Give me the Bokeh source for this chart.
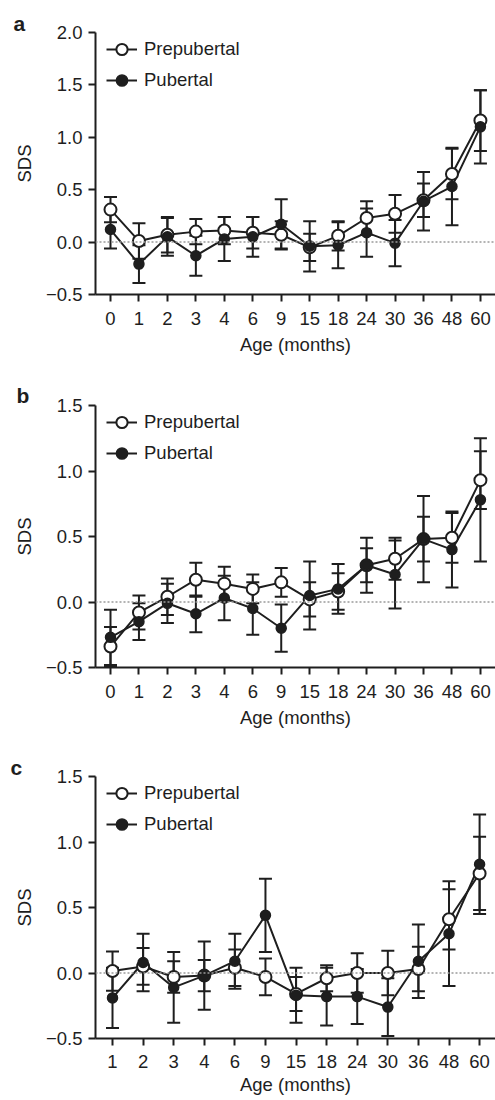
from bokeh.plotting import figure
from bokeh.models import (ColumnDataSource, Whisker, TeeHead, Span, Legend,
                          LegendItem, FixedTicker)
from bokeh.layouts import column
from bokeh.embed import file_html
from bokeh.resources import INLINE

# ---------------- data ----------------
ages_ab = ["0", "1", "2", "3", "4", "6", "9", "15", "18", "24", "30", "36", "48", "60"]
ages_c = ["1", "2", "3", "4", "6", "9", "15", "18", "24", "30", "36", "48", "60"]

a_pre = [0.31, 0.01, 0.07, 0.10, 0.11, 0.09, 0.07, -0.05, 0.06, 0.23, 0.27, 0.40, 0.65, 1.16]
a_pre_err = [0.12, 0.17, 0.17, 0.12, 0.13, 0.15, 0.13, 0.13, 0.14, 0.16, 0.18, 0.16, 0.24, 0.29]
a_pub = [0.12, -0.21, 0.05, -0.13, 0.03, 0.05, 0.17, -0.04, -0.03, 0.09, -0.01, 0.39, 0.53, 1.10]
a_pub_err = [0.18, 0.18, 0.18, 0.19, 0.21, 0.19, 0.24, 0.24, 0.22, 0.23, 0.22, 0.28, 0.37, 0.35]

b_pre = [-0.34, -0.08, 0.04, 0.17, 0.14, 0.10, 0.15, 0.02, 0.08, 0.28, 0.33, 0.48, 0.49, 0.93]
b_pre_err = [0.15, 0.13, 0.14, 0.13, 0.13, 0.11, 0.11, 0.13, 0.14, 0.13, 0.16, 0.17, 0.19, 0.22]
b_pub = [-0.27, -0.15, -0.01, -0.09, 0.03, -0.05, -0.20, 0.05, 0.10, 0.28, 0.21, 0.48, 0.40, 0.78]
b_pub_err = [0.21, 0.14, 0.15, 0.14, 0.17, 0.20, 0.18, 0.26, 0.19, 0.21, 0.26, 0.33, 0.29, 0.47]

c_pre = [0.015, 0.05, -0.03, -0.02, 0.04, -0.03, -0.16, -0.04, 0.00, 0.00, 0.03, 0.41, 0.76]
c_pre_err = [0.15, 0.14, 0.12, 0.12, 0.14, 0.14, 0.13, 0.10, 0.15, 0.17, 0.17, 0.23, 0.28]
c_pub = [-0.19, 0.08, -0.11, -0.02, 0.09, 0.44, -0.17, -0.18, -0.18, -0.26, 0.09, 0.30, 0.83]
c_pub_err = [0.23, 0.22, 0.27, 0.26, 0.21, 0.28, 0.21, 0.22, 0.21, 0.22, 0.28, 0.40, 0.38]

yticks_a = [-0.5, 0.0, 0.5, 1.0, 1.5, 2.0]
yticks_bc = [-0.5, 0.0, 0.5, 1.0, 1.5]
ytick_labels = {-0.5: "\u22120.5", 0.0: "0.0", 0.5: "0.5", 1.0: "1.0", 1.5: "1.5", 2.0: "2.0"}

FONT = "Liberation Sans"
INK = "#1e1e1e"
FS = "18.5px"


def panel(letter, ages, pre, pre_err, pub, pub_err, yticks, ymax, height,
          top, bottom, xr, letter_offset, letter_standoff, legend_y,
          tick_standoff, label_standoff):
    xs = list(range(len(ages)))
    p = figure(width=495, height=height, x_range=xr, y_range=(-0.5, ymax),
               output_backend="svg", toolbar_location=None,
               min_border_left=95, min_border_right=0,
               min_border_top=top, min_border_bottom=bottom)
    p.outline_line_color = None
    p.grid.visible = False
    p.background_fill_color = "white"

    p.title.text = letter
    p.title.align = "left"
    p.title.offset = letter_offset
    p.title.standoff = letter_standoff
    p.title.text_font = FONT
    p.title.text_font_size = "21px"
    p.title.text_font_style = "bold"
    p.title.text_color = INK

    p.add_layout(Span(location=0, dimension="width", line_color="#9a9a9a",
                      line_width=1.5, line_dash="2 2"))

    src_pre = ColumnDataSource(dict(x=xs, y=pre,
                                    lo=[v - e for v, e in zip(pre, pre_err)],
                                    hi=[v + e for v, e in zip(pre, pre_err)]))
    src_pub = ColumnDataSource(dict(x=xs, y=pub,
                                    lo=[v - e for v, e in zip(pub, pub_err)],
                                    hi=[v + e for v, e in zip(pub, pub_err)]))

    for src in (src_pre, src_pub):
        w = Whisker(source=src, base="x", upper="hi", lower="lo",
                    line_color=INK, line_width=2,
                    upper_head=TeeHead(size=13, line_width=2, line_color=INK),
                    lower_head=TeeHead(size=13, line_width=2, line_color=INK))
        p.add_layout(w)

    l_pre = p.line("x", "y", source=src_pre, line_color=INK, line_width=2)
    l_pub = p.line("x", "y", source=src_pub, line_color=INK, line_width=2)
    s_pre = p.scatter("x", "y", source=src_pre, size=12, fill_color="white",
                      line_color=INK, line_width=2)
    s_pub = p.scatter("x", "y", source=src_pub, size=10, fill_color=INK,
                      line_color=INK, line_width=1.5)

    legend = Legend(items=[LegendItem(label="Prepubertal", renderers=[l_pre, s_pre]),
                           LegendItem(label="Pubertal", renderers=[l_pub, s_pub])],
                    location=(11, legend_y), margin=0, padding=0, spacing=3,
                    glyph_width=31, glyph_height=28, label_standoff=7,
                    label_text_font=FONT, label_text_font_size=FS,
                    label_text_color=INK, border_line_color=None,
                    background_fill_alpha=0)
    p.add_layout(legend)

    for ax in (p.xaxis[0], p.yaxis[0]):
        ax.axis_line_color = INK
        ax.axis_line_width = 2
        ax.major_tick_line_color = INK
        ax.major_tick_line_width = 2
        ax.major_tick_out = 7
        ax.major_tick_in = 0
        ax.minor_tick_line_color = None
        ax.major_label_text_font = FONT
        ax.major_label_text_font_size = FS
        ax.major_label_text_color = INK
        ax.axis_label_text_font = FONT
        ax.axis_label_text_font_size = FS
        ax.axis_label_text_font_style = "normal"
        ax.axis_label_text_color = INK

    p.xaxis.ticker = FixedTicker(ticks=xs)
    p.xaxis.major_label_overrides = {i: a for i, a in zip(xs, ages)}
    p.xaxis.major_label_standoff = tick_standoff
    p.xaxis.axis_label = "Age (months)"
    p.xaxis.axis_label_standoff = label_standoff

    p.yaxis.ticker = FixedTicker(ticks=yticks)
    p.yaxis.major_label_overrides = {t: ytick_labels[t] for t in yticks}
    p.yaxis.major_label_standoff = 6
    p.yaxis.axis_label = "SDS"
    p.yaxis.axis_label_standoff = 8
    return p


pa = panel("a", ages_ab, a_pre, a_pre_err, a_pub, a_pub_err, yticks_a, 2.0,
           368, 32, 74, (-0.527, 13.53), -82, -4, 200, 10, 6)
pb = panel("b", ages_ab, b_pre, b_pre_err, b_pub, b_pub_err, yticks_bc, 1.5,
           366, 37, 67, (-0.527, 13.53), -79, -3, 200, 10, 6)
pc = panel("c", ages_c, c_pre, c_pre_err, c_pub, c_pub_err, yticks_bc, 1.5,
           366, 42, 62, (-0.556, 12.52), -85, -5, 200, 9, 3)

layout = column(pa, pb, pc, spacing=0)
open("out.html", "w").write(file_html(layout, INLINE))
